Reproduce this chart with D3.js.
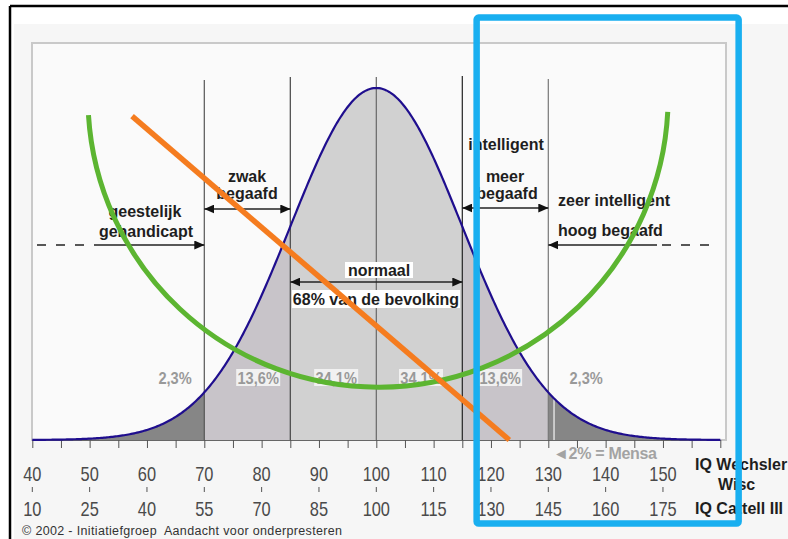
<!DOCTYPE html>
<html>
<head>
<meta charset="utf-8">
<script src="https://cdn.jsdelivr.net/npm/d3@7"></script>
<style>
  html, body { margin: 0; padding: 0; background: #fff; }
  svg { display: block; font-family: "Liberation Sans", Arial, sans-serif; }
</style>
</head>
<body>
<div id="chart"></div>
<script>
// IQ distribution (Wechsler scale)
var iqMean = 100;
var iqSd = 15;
var iqDomain = [40, 160];
var axisTicks = d3.range(40, 161, 5);
var wechslerLabels = [40, 50, 60, 70, 80, 90, 100, 110, 120, 130, 140, 150];
var cattellLabels = [10, 25, 40, 55, 70, 85, 100, 115, 130, 145, 160, 175];
var regionEdges = [40, 70, 85, 115, 130, 160];
var dividers = [70, 85, 100, 115, 130];
var mensaIQ = 131;
var percentLabels = ["2,3%", "13,6%", "34,1%", "34,1%", "13,6%", "2,3%"];
var percentAt = [64.9, 79.4, 93.0, 107.8, 121.6, 136.6];

// overlay marks, in IQ / relative height (1 = top of bell)
var orangeFrom = [57.4, 0.92];
var orangeTo = [123.2, 0.0];
var greenArc = { centerIQ: 100.3, radiusIQ: 50.6, lowH: 0.15, leftH: 0.923, rightH: 0.932 };
var blueBox = { fromIQ: 117.5, toIQ: 163.2, topH: 1.2, bottomH: -0.237 };

var W = 788, H = 539;
var svg = d3.select("#chart").append("svg")
    .attr("width", W)
    .attr("height", H);

var x = d3.scaleLinear().domain(iqDomain).range([32.3, 720.3]);
var y = d3.scaleLinear().domain([0, 1]).range([440, 88]);

function dens(v) {
    var z = (v - iqMean) / iqSd;
    return Math.exp(-z * z / 2);
}

// backgrounds and frames
svg.append("rect").attr("x", 14).attr("y", 24).attr("width", W - 14).attr("height", H - 24)
    .attr("fill", "#f6f6f6");
svg.append("rect").attr("x", 32).attr("y", 43).attr("width", 694).attr("height", 397)
    .attr("fill", "#fafafa").attr("stroke", "#c9c9c9").attr("stroke-width", 2);
svg.append("line").attr("x1", 10).attr("x2", 10).attr("y1", 6).attr("y2", H)
    .attr("stroke", "#000").attr("stroke-width", 2.5);
svg.append("line").attr("x1", 10).attr("x2", W).attr("y1", 6).attr("y2", 6)
    .attr("stroke", "#000").attr("stroke-width", 2.5);

// shaded regions under the curve
var regionFill = ["#868686", "#c8c4c9", "#d1d1d1", "#c8c4c9", "#868686"];
var area = d3.area()
    .x(function (d) { return x(d); })
    .y0(y(0))
    .y1(function (d) { return y(dens(d)); });
var regions = d3.pairs(regionEdges);
svg.append("g").selectAll("path")
    .data(regions)
    .enter()
    .append("path")
    .attr("d", function (r) { return area(d3.range(r[0], r[1], 0.25).concat([r[1]])); })
    .attr("fill", function (d, i) { return regionFill[i]; });

// mensa hairline
svg.append("line")
    .attr("x1", x(mensaIQ)).attr("x2", x(mensaIQ))
    .attr("y1", y(0)).attr("y2", y(dens(mensaIQ)))
    .attr("stroke", "#f4f4f4").attr("stroke-width", 1.2);

// axis
var axis = svg.append("g")
    .attr("transform", "translate(0," + y(0) + ")")
    .call(d3.axisBottom(x).tickValues(axisTicks).tickSize(8).tickSizeOuter(0).tickFormat(""));
axis.select(".domain").attr("stroke", "#666");
axis.selectAll(".tick line").attr("stroke", "#555");

// divider lines
var divTop = [80, 77, 77, 76, 79];
svg.append("g").selectAll("line")
    .data(dividers)
    .enter()
    .append("line")
    .attr("x1", function (d) { return x(d); })
    .attr("x2", function (d) { return x(d); })
    .attr("y1", function (d, i) { return divTop[i]; })
    .attr("y2", y(0))
    .attr("stroke", function (d, i) { return ["#555", "#444", "#666", "#222", "#777"][i]; })
    .attr("stroke-width", 1.2);

// bell curve
var line = d3.line()
    .x(function (d) { return x(d); })
    .y(function (d) { return y(dens(d)); });
svg.append("path")
    .attr("d", line(d3.range(iqDomain[0], iqDomain[1] + 0.01, 0.25)))
    .attr("fill", "none")
    .attr("stroke", "#1f0e8e")
    .attr("stroke-width", 2.2);

// percentage labels
var pct = svg.append("g");
percentLabels.forEach(function (t, i) {
    var cx = x(percentAt[i]);
    var boxed = i > 0 && i < 5;
    if (boxed) {
        pct.append("rect").attr("x", cx - 22).attr("y", 369).attr("width", 44).attr("height", 17)
            .attr("fill", "#f1f1f1");
    }
    pct.append("text")
        .attr("x", cx).attr("y", 384)
        .attr("text-anchor", "middle")
        .attr("font-size", 17).attr("font-weight", "bold")
        .attr("fill", "#999")
        .attr("transform", "translate(" + cx + ",0) scale(0.86,1) translate(" + (-cx) + ",0)")
        .text(t);
});

// arrows
var defs = svg.append("defs");
defs.append("marker")
    .attr("id", "ah")
    .attr("viewBox", "0 0 10 9")
    .attr("refX", 10).attr("refY", 4.5)
    .attr("markerWidth", 10).attr("markerHeight", 9)
    .attr("markerUnits", "userSpaceOnUse")
    .attr("orient", "auto-start-reverse")
    .append("path").attr("d", "M0,0L10,4.5L0,9Z").attr("fill", "#111");

function arrow(x1, x2, yy, start, end) {
    var l = svg.append("line")
        .attr("x1", x1).attr("x2", x2).attr("y1", yy).attr("y2", yy)
        .attr("stroke", "#222").attr("stroke-width", 1.4);
    if (start) l.attr("marker-start", "url(#ah)");
    if (end) l.attr("marker-end", "url(#ah)");
}
function dashed(x1, x2, yy) {
    svg.append("line")
        .attr("x1", x1).attr("x2", x2).attr("y1", yy).attr("y2", yy)
        .attr("stroke", "#222").attr("stroke-width", 1.4)
        .attr("stroke-dasharray", "9,10");
}
dashed(37, 95, 245);
arrow(95, x(70), 245, false, true);
arrow(x(70), x(85), 209, true, true);
arrow(x(85), x(115), 282, true, true);
arrow(x(115), x(130), 208, true, true);
arrow(x(130), 657, 245, true, false);
dashed(662, 716, 245);

// white boxes behind the normal range labels
svg.append("rect").attr("x", 345).attr("y", 262).attr("width", 68).attr("height", 16).attr("fill", "#fff");
svg.append("rect").attr("x", 292).attr("y", 290).attr("width", 168).attr("height", 18).attr("fill", "#fff");

function label(t, xx, yy, anchor) {
    svg.append("text")
        .attr("x", xx).attr("y", yy)
        .attr("text-anchor", anchor || "middle")
        .attr("font-size", 16).attr("font-weight", "bold")
        .attr("fill", "#1e1e1e")
        .text(t);
}
label("geestelijk", 145, 217);
label("gehandicapt", 146, 237);
label("zwak", 247, 182);
label("begaafd", 247, 199);
label("normaal", 379, 276);
label("68% van de bevolking", 376, 305);
label("intelligent", 506, 150);
label("meer", 505, 182);
label("begaafd", 507, 199);
label("zeer intelligent", 558, 206, "start");
label("hoog begaafd", 558, 236, "start");

svg.append("text")
    .attr("x", 553).attr("y", 459)
    .attr("font-size", 16).attr("font-weight", "bold")
    .attr("fill", "#a3a3a3")
    .attr("textLength", 104)
    .text("\u25C42% = Mensa");

// scale number rows
function numRow(vals, pos, yy) {
    svg.append("g").selectAll("text")
        .data(vals)
        .enter()
        .append("text")
        .attr("x", function (d, i) { return x(pos[i]); })
        .attr("y", yy)
        .attr("text-anchor", "middle")
        .attr("font-size", 20)
        .attr("fill", "#4a4a4a")
        .attr("transform", function (d, i) {
            var cx = x(pos[i]);
            return "translate(" + cx + ",0) scale(0.82,1) translate(" + (-cx) + ",0)";
        })
        .text(function (d) { return d; });
}
numRow(wechslerLabels, wechslerLabels, 481.5);
numRow(cattellLabels, wechslerLabels, 516);
svg.append("g").selectAll("line")
    .data(wechslerLabels)
    .enter()
    .append("line")
    .attr("x1", function (d) { return x(d); })
    .attr("x2", function (d) { return x(d); })
    .attr("y1", 487).attr("y2", 492)
    .attr("stroke", "#555");

label("IQ Wechsler", 695, 470, "start");
label("Wisc", 718, 490, "start");
label("IQ Cattell III", 695, 514, "start");

svg.append("text")
    .attr("x", 22).attr("y", 535)
    .attr("font-size", 12.5)
    .attr("fill", "#333")
    .attr("textLength", 320)
    .attr("xml:space", "preserve")
    .style("white-space", "pre")
    .text("\u00A9 2002 - Initiatiefgroep  Aandacht voor onderpresteren");

// overlays: green arc, orange line, blue box
var ac = x(greenArc.centerIQ);
var ar = x(greenArc.centerIQ + greenArc.radiusIQ) - ac;
var acy = y(greenArc.lowH) - ar;
var aRight = Math.asin((y(greenArc.rightH) - acy) / ar);
var aLeft = Math.PI - Math.asin((y(greenArc.leftH) - acy) / ar);
var gp = d3.path();
gp.arc(ac, acy, ar, aRight, aLeft, false);
svg.append("path")
    .attr("d", gp.toString())
    .attr("fill", "none")
    .attr("stroke", "#5cb531")
    .attr("stroke-width", 5);

svg.append("line")
    .attr("x1", x(orangeFrom[0])).attr("y1", y(orangeFrom[1]))
    .attr("x2", x(orangeTo[0])).attr("y2", y(orangeTo[1]))
    .attr("stroke", "#f57c1f")
    .attr("stroke-width", 5.5);

svg.append("rect")
    .attr("x", x(blueBox.fromIQ))
    .attr("y", y(blueBox.topH))
    .attr("width", x(blueBox.toIQ) - x(blueBox.fromIQ))
    .attr("height", y(blueBox.bottomH) - y(blueBox.topH))
    .attr("rx", 2)
    .attr("fill", "none")
    .attr("stroke", "#19aff0")
    .attr("stroke-width", 6.5);
</script>
</body>
</html>
